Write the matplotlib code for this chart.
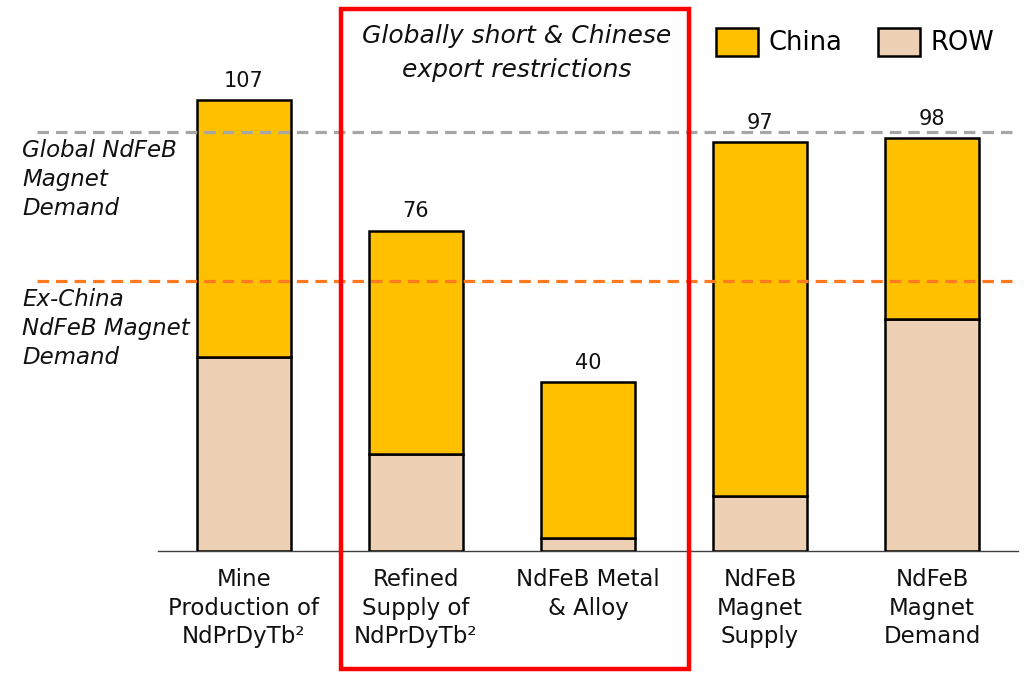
import matplotlib.pyplot as plt
import matplotlib.patches as mpatches
import numpy as np

# ── colours ─────────────────────────────────────────────
CHINA = "#FFC000"
ROW_C = "#EED1B5"
GREY = "#A6A6A6"
ORANGE = "#FF7A1E"
RED = "#FF0000"
INK = "#111111"

plt.rcParams["font.family"] = "DejaVu Sans"

# ── data (kt) ───────────────────────────────────────────
categories = [
    "Mine\nProduction of\nNdPrDyTb²",
    "Refined\nSupply of\nNdPrDyTb²",
    "NdFeB Metal\n& Alloy\n",
    "NdFeB\nMagnet\nSupply",
    "NdFeB\nMagnet\nDemand",
]
totals = [107, 76, 40, 97, 98]
row_vals = [46, 23, 3, 13, 55]
china_vals = [t - r for t, r in zip(totals, row_vals)]
global_demand = 99.5
ex_china_demand = 64

W, H = 1028, 674
fig = plt.figure(figsize=(W / 100, H / 100), dpi=100)
ax = fig.add_axes([158 / W, 1 - 551 / H, 860 / W, 548 / H])

x = np.arange(len(categories))
bw = 0.55
ax.bar(x, row_vals, bw, color=ROW_C, edgecolor="black", linewidth=1.8, label="ROW", zorder=3)
ax.bar(x, china_vals, bw, bottom=row_vals, color=CHINA, edgecolor="black",
       linewidth=1.8, label="China", zorder=3)

for xi, t in zip(x, totals):
    ax.text(xi, t + 2.2, f"{t}", ha="center", va="bottom", fontsize=15, color=INK)

ax.set_xlim(-0.5, 4.5)
ax.set_ylim(0, 130)

# demand reference lines, extended left past the axes
x_left = -0.5 - (158 - 37) / 172
ax.plot([x_left, 4.5], [global_demand] * 2, color=GREY, lw=2.3,
        ls=(0, (3.6, 2.2)), clip_on=False, zorder=4)
ax.plot([x_left, 4.5], [ex_china_demand] * 2, color=ORANGE, lw=2.3,
        ls=(0, (3.6, 2.2)), clip_on=False, zorder=4)

fig.text(22 / W, 1 - 139 / H, "Global NdFeB\nMagnet\nDemand", ha="left", va="top",
         fontsize=16.5, style="italic", linespacing=1.33, color=INK)
fig.text(22 / W, 1 - 288 / H, "Ex-China\nNdFeB Magnet\nDemand", ha="left", va="top",
         fontsize=16.5, style="italic", linespacing=1.33, color=INK)

for s in ["top", "right", "left"]:
    ax.spines[s].set_visible(False)
ax.spines["bottom"].set_color("#404040")
ax.spines["bottom"].set_linewidth(1.0)
ax.set_yticks([])
ax.set_xticks([])

for xi, lab in zip(x, categories):
    ax.text(xi, -4.0, lab, ha="center", va="top", fontsize=16.5,
            linespacing=1.32, color=INK)

# highlight box around the refined / metal stages
fig.add_artist(mpatches.Rectangle((341 / W, 1 - 669 / H), 348 / W, 660 / H,
                                  transform=fig.transFigure, fill=False,
                                  edgecolor=RED, linewidth=3.2))
fig.text(517 / W, 1 - 53 / H, "Globally short & Chinese\nexport restrictions",
         ha="center", va="center", fontsize=18, style="italic",
         linespacing=1.5, color=INK)

handles = [mpatches.Patch(facecolor=CHINA, edgecolor="black", linewidth=1.8, label="China"),
           mpatches.Patch(facecolor=ROW_C, edgecolor="black", linewidth=1.8, label="ROW")]
fig.legend(handles=handles, loc="center", bbox_to_anchor=(855 / W, 1 - 42 / H),
           ncol=2, frameon=False, fontsize=18.5, handlelength=1.65, handleheight=1.3,
           handletextpad=0.4, columnspacing=1.4)

fig.savefig("out.png", dpi=100, facecolor="white")
